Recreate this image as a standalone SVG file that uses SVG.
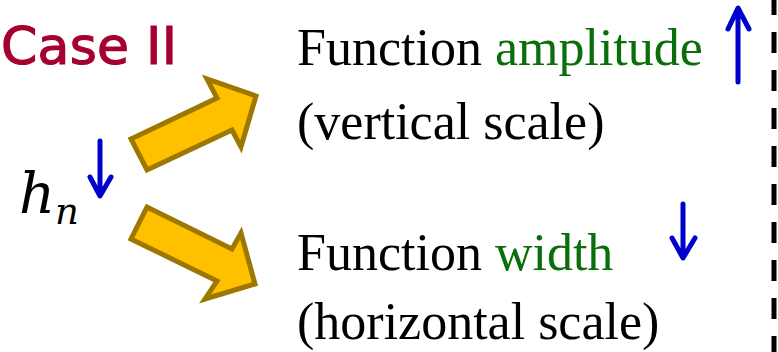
<svg xmlns="http://www.w3.org/2000/svg" width="778" height="352" viewBox="0 0 778 352">
<style>
.t{font-family:"Liberation Serif","Times New Roman",serif;font-size:52px;fill:#000}
.g{fill:#0A6E0A}
.big{fill:#FFC000;stroke:#9C7800;stroke-width:5;stroke-linejoin:miter}
.blue{fill:none;stroke:#0000CC;stroke-width:5;stroke-linecap:round;stroke-linejoin:round}
</style>
<rect width="778" height="352" fill="#fff"/>
<g id="case-title">
<text x="1" y="64" font-family="'DejaVu Sans',sans-serif" font-size="52" fill="#A50030" stroke="#A50030" stroke-width="1.2" textLength="176" lengthAdjust="spacing">Case II</text>
</g>
<g id="hn">
<text x="19" y="213" font-family="'DejaVu Serif',serif" font-style="italic" font-size="56" fill="#000">h</text>
<text x="55" y="224" font-family="'DejaVu Serif',serif" font-style="italic" font-size="37" fill="#000">n</text>
<path class="blue" d="M100,141 V195 M90,177 L100,196 L111,177"/>
</g>
<g id="amplitude">
<text class="t" x="297" y="65">Function <tspan class="g">amplitude</tspan></text>
<text class="t" x="297" y="139">(vertical scale)</text>
<path class="blue" d="M738,82 V9 M728,29 L738,8 L749,29"/>
</g>
<g id="width">
<text class="t" x="297" y="270">Function <tspan class="g">width</tspan></text>
<text class="t" x="297" y="339">(horizontal scale)</text>
<path class="blue" d="M683,204 V257 M672,238 L683,258 L695,238"/>
</g>
<g id="connectors">
<polygon class="big" points="131,139 217,98 207,79 256,96 241,147 232,130 147,170"/>
<polygon class="big" points="131,239 147,207 232,249 241,233 255,284 205,299 217,281"/>
</g>
<g id="divider">
<line x1="774" y1="0" x2="774" y2="352" stroke="#000" stroke-width="5" stroke-dasharray="21 17" stroke-dashoffset="6"/>
</g>
</svg>
